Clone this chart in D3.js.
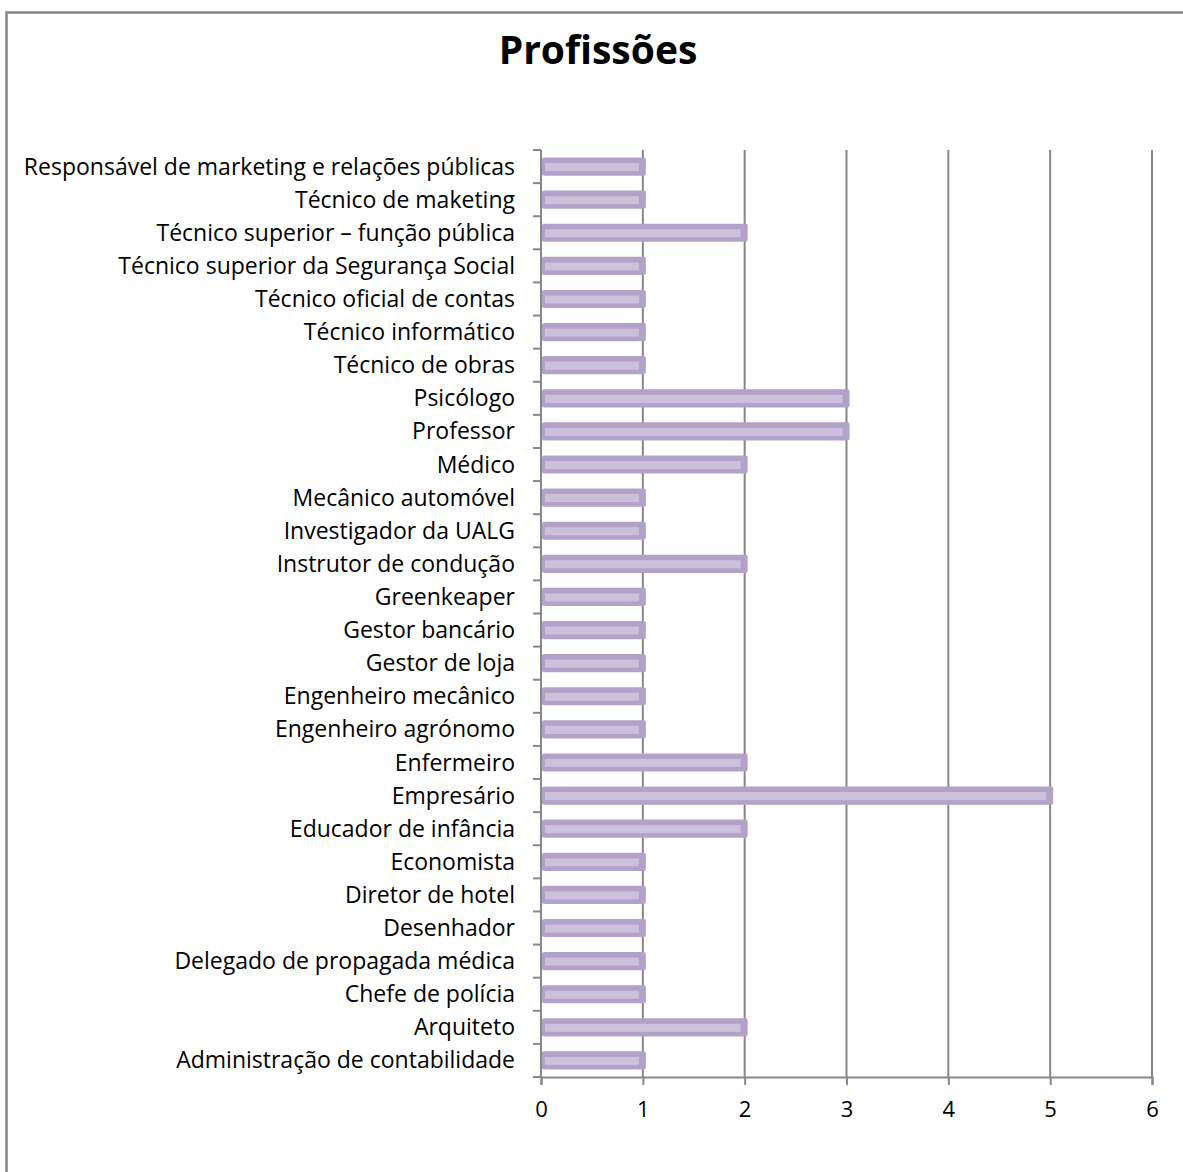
<!DOCTYPE html>
<html>
<head>
<meta charset="utf-8">
<script src="https://cdn.jsdelivr.net/npm/d3@7"></script>
<style>
  body { margin: 0; background: #fff; }
  text { font-family: "Open Sans", Lato, sans-serif; fill: #000; }
</style>
</head>
<body>
<script>
// categories, bottom to top as in the chart
const categories = [
  'Administração de contabilidade', 'Arquiteto', 'Chefe de polícia',
  'Delegado de propagada médica', 'Desenhador', 'Diretor de hotel',
  'Economista', 'Educador de infância', 'Empresário', 'Enfermeiro',
  'Engenheiro agrónomo', 'Engenheiro mecânico', 'Gestor de loja',
  'Gestor bancário', 'Greenkeaper', 'Instrutor de condução',
  'Investigador da UALG', 'Mecânico automóvel', 'Médico', 'Professor',
  'Psicólogo', 'Técnico de obras', 'Técnico informático',
  'Técnico oficial de contas', 'Técnico superior da Segurança Social',
  'Técnico superior – função pública', 'Técnico de maketing',
  'Responsável de marketing e relações públicas'
]
const counts = [1, 2, 1, 1, 1, 1, 1, 2, 5, 2, 1, 1, 1, 1, 1, 2, 1, 1, 2, 3, 3, 1, 1, 1, 1, 2, 1, 1]
const xTicks = [0, 1, 2, 3, 4, 5, 6]
const title = 'Profissões'

const width = 1183
const height = 1172
const margin = { top: 150, bottom: 95, left: 541, right: 31 }

const svg = d3.select('body')
  .append('svg')
  .attr('width', width)
  .attr('height', height)

// outer chart border
svg.append('rect')
  .attr('x', 6.5)
  .attr('y', 12.5)
  .attr('width', width + 20)
  .attr('height', height + 20)
  .style('fill', 'none')
  .style('stroke', '#868686')
  .style('stroke-width', 2.5)

svg.append('text')
  .attr('x', 598)
  .attr('y', 64)
  .attr('text-anchor', 'middle')
  .style('font-size', '39px')
  .style('font-weight', 'bold')
  .text(title)

const xScale = d3.scaleLinear()
  .domain([0, 6])
  .range([margin.left, width - margin.right])

const yScale = d3.scaleBand()
  .domain(categories)
  .range([height - margin.bottom, margin.top])
  .paddingInner(0.45)
  .paddingOuter(0.225)

const plotBottom = height - margin.bottom

// vertical gridlines
svg.append('g')
  .selectAll('line')
  .data(xTicks.slice(1))
  .enter()
  .append('line')
  .attr('x1', d => xScale(d))
  .attr('x2', d => xScale(d))
  .attr('y1', margin.top)
  .attr('y2', plotBottom)
  .style('stroke', '#878787')
  .style('stroke-width', 2)

// x axis
const xAxis = d3.axisBottom(xScale)
  .tickValues(xTicks)
  .tickSize(8)
  .tickPadding(16)
  .tickFormat(d3.format('d'))

const xG = svg.append('g')
  .attr('transform', `translate(0,${plotBottom})`)
  .call(xAxis)
xG.select('.domain').style('stroke', '#878787').style('stroke-width', 2)
xG.selectAll('.tick line').style('stroke', '#878787').style('stroke-width', 2)
xG.selectAll('.tick text')
  .style('font-family', '"Open Sans", sans-serif')
  .style('font-size', '22px')

// y axis: ticks sit on the band boundaries
const step = yScale.step()
const boundaries = d3.range(categories.length + 1).map(i => plotBottom - i * step)

const yG = svg.append('g')
yG.append('line')
  .attr('x1', margin.left)
  .attr('x2', margin.left)
  .attr('y1', margin.top)
  .attr('y2', plotBottom)
  .style('stroke', '#878787')
  .style('stroke-width', 2)
yG.selectAll('line.tick')
  .data(boundaries)
  .enter()
  .append('line')
  .attr('class', 'tick')
  .attr('x1', margin.left - 8)
  .attr('x2', margin.left)
  .attr('y1', d => d)
  .attr('y2', d => d)
  .style('stroke', '#878787')
  .style('stroke-width', 2)

yG.selectAll('text')
  .data(categories)
  .enter()
  .append('text')
  .attr('x', 515)
  .attr('y', d => yScale(d) + yScale.bandwidth() / 2)
  .attr('dy', '0.35em')
  .attr('text-anchor', 'end')
  .style('font-size', '23px')
  .text(d => d)

// bars
const bars = svg.append('g')
  .selectAll('g.bar')
  .data(categories.map((c, i) => ({ cat: c, value: counts[i] })))
  .enter()
  .append('g')
  .attr('class', 'bar')
  .attr('transform', d => `translate(0,${yScale(d.cat)})`)

bars.append('rect')
  .attr('x', xScale(0) + 1)
  .attr('y', 0)
  .attr('width', d => xScale(d.value) - xScale(0) + 2)
  .attr('height', yScale.bandwidth())
  .attr('rx', 2)
  .style('fill', '#b3a2c7')

bars.append('rect')
  .attr('x', xScale(0) + 4)
  .attr('y', yScale.bandwidth() / 2 - 3.5)
  .attr('width', d => xScale(d.value) - xScale(0) - 8)
  .attr('height', 8)
  .style('fill', '#ccc1dd')
</script>
</body>
</html>
